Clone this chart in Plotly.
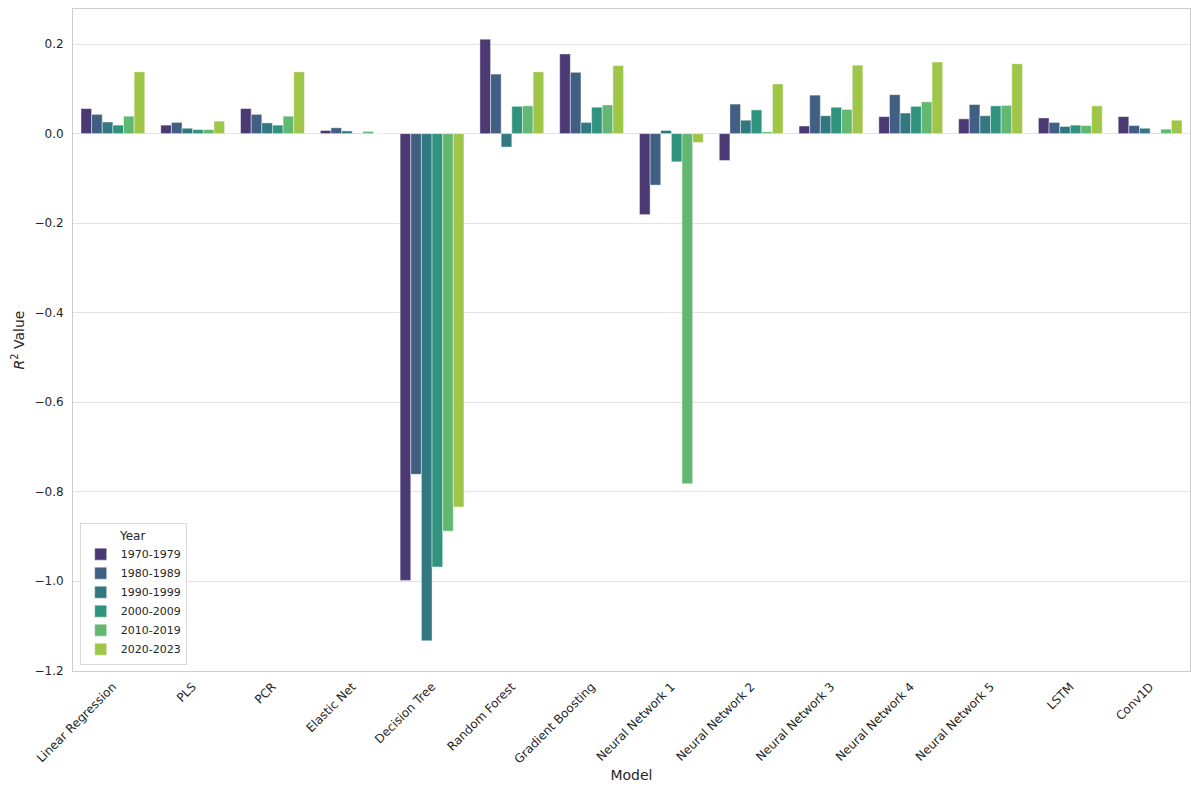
import plotly.graph_objects as go

# Models on the x axis
models = [
    "Linear Regression", "PLS", "PCR", "Elastic Net", "Decision Tree",
    "Random Forest", "Gradient Boosting", "Neural Network 1", "Neural Network 2",
    "Neural Network 3", "Neural Network 4", "Neural Network 5", "LSTM", "Conv1D",
]

# Decades used as hue groups
years = ["1970-1979", "1980-1989", "1990-1999", "2000-2009", "2010-2019", "2020-2023"]

# Out-of-sample R² per model, one list per decade
r2_1970s = [0.056, 0.019, 0.056, 0.007, -0.998, 0.211, 0.178, -0.181, -0.060, 0.017, 0.038, 0.033, 0.035, 0.038]
r2_1980s = [0.043, 0.025, 0.043, 0.013, -0.761, 0.133, 0.137, -0.115, 0.066, 0.086, 0.087, 0.065, 0.025, 0.018]
r2_1990s = [0.026, 0.012, 0.024, 0.006, -1.133, -0.030, 0.025, 0.007, 0.030, 0.040, 0.046, 0.040, 0.016, 0.012]
r2_2000s = [0.019, 0.009, 0.019, 0.001, -0.968, 0.061, 0.059, -0.063, 0.053, 0.059, 0.061, 0.062, 0.019, 0.001]
r2_2010s = [0.039, 0.009, 0.039, 0.005, -0.888, 0.062, 0.064, -0.782, 0.004, 0.054, 0.071, 0.063, 0.018, 0.010]
r2_2020s = [0.138, 0.028, 0.138, 0.000, -0.834, 0.138, 0.152, -0.020, 0.111, 0.153, 0.160, 0.156, 0.062, 0.030]

series = [r2_1970s, r2_1980s, r2_1990s, r2_2000s, r2_2010s, r2_2020s]

# Desaturated viridis palette
colors = ["#4a3973", "#405f82", "#327881", "#30937d", "#62b771", "#a0c649"]

font_family = "DejaVu Sans, Liberation Sans, sans-serif"
text_color = "#262626"

fig = go.Figure()
for label, values, color in zip(years, series, colors):
    fig.add_trace(go.Bar(
        x=models,
        y=values,
        name=label,
        marker=dict(color=color, line=dict(color="rgba(255,255,255,0.55)", width=0.8)),
    ))

fig.update_layout(
    width=1191,
    height=788,
    barmode="group",
    bargap=0.2,
    bargroupgap=0,
    plot_bgcolor="white",
    paper_bgcolor="white",
    margin=dict(l=73, r=1, t=9, b=117),
    font=dict(family=font_family, size=12, color=text_color),
    legend=dict(
        title=dict(text="Year", side="top center", font=dict(size=12, color=text_color)),
        font=dict(size=11, color=text_color),
        x=0.006, y=0.009, xanchor="left", yanchor="bottom",
        bgcolor="rgba(255,255,255,0.85)",
        bordercolor="#d9d9d9", borderwidth=1,
        tracegroupgap=0,
        itemwidth=30,
    ),
    xaxis=dict(
        title=dict(text="Model", font=dict(size=14, color=text_color), standoff=4),
        tickangle=-45,
        tickfont=dict(size=12, color=text_color),
        showgrid=False,
        showline=True, linecolor="#cccccc", linewidth=1, mirror=True,
        ticks="outside", ticklen=3, tickcolor="rgba(0,0,0,0)",
    ),
    yaxis=dict(
        title=dict(text="<i>R</i><sup>2</sup> Value", font=dict(size=14, color=text_color), standoff=6),
        range=[-1.2004, 0.2784],
        tickvals=[-1.2, -1.0, -0.8, -0.6, -0.4, -0.2, 0.0, 0.2],
        tickformat=".1f",
        tickfont=dict(size=12, color=text_color),
        showgrid=True, gridcolor="#e3e3e3", gridwidth=1,
        zeroline=False,
        showline=True, linecolor="#cccccc", linewidth=1, mirror=True,
        ticks="outside", ticklen=6, tickcolor="rgba(0,0,0,0)",
    ),
)

fig.write_html("out.html")
